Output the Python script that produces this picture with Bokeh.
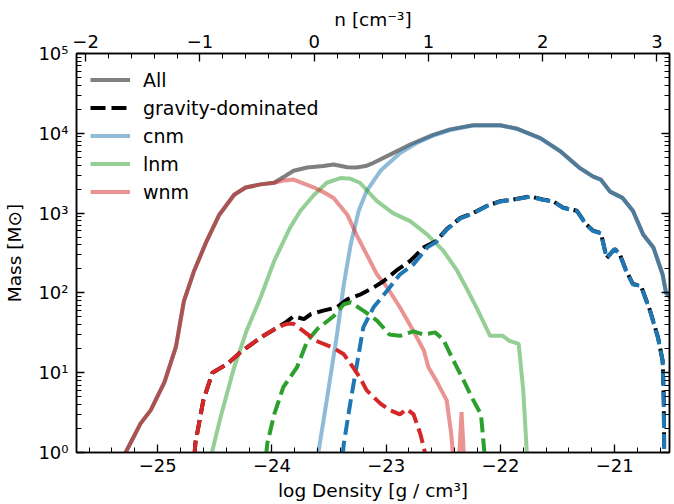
from bokeh.plotting import figure
from bokeh.models import (Range1d, LinearAxis, LogAxis, FixedTicker,
                          SingleIntervalTicker, Legend, LegendItem)
from bokeh.embed import file_html
from bokeh.resources import INLINE

FONT = "DejaVu Sans"

# ---------------- data (log density [g/cm^3], mass [Msun]) ----------------
x_all = [-25.34, -25.28, -25.15, -25.06, -24.94, -24.84, -24.77, -24.68, -24.57,
         -24.46, -24.33, -24.23, -24.10, -23.98, -23.89, -23.81, -23.69, -23.55,
         -23.46, -23.34, -23.26, -23.18, -23.11, -22.97, -22.79, -22.59, -22.44,
         -22.24, -22.00, -21.86, -21.65, -21.48, -21.31, -21.19, -21.12, -21.04,
         -20.93, -20.84, -20.75, -20.66, -20.58, -20.55, -20.51]
m_all = [0.5, 1.0, 2.3, 3.4, 7.6, 21, 79, 190, 450,
         955, 1700, 2090, 2290, 2400, 2880, 3390, 3720, 3890,
         4070, 3760, 3720, 3890, 4270, 5370, 7240, 9550, 11200,
         12600, 12600, 11500, 8710, 6030, 3720, 2880, 2630, 1860,
         1550, 1070, 540, 370, 170, 100, 87]

x_cnm = [-23.62, -23.59, -23.52, -23.43, -23.37, -23.31, -23.24, -23.17, -23.05,
         -22.88, -22.73, -22.59, -22.44, -22.24, -22.00, -21.86, -21.65, -21.48,
         -21.31, -21.19, -21.12, -21.04, -20.93, -20.84, -20.75, -20.66, -20.58,
         -20.55, -20.51]
m_cnm = [0.5, 1.07, 4.5, 30, 129, 407, 1070, 1900, 3390,
         5620, 7590, 9330, 11000, 12500, 12500, 11400, 8650, 6000,
         3700, 2860, 2610, 1850, 1540, 1060, 535, 365, 168,
         99, 86]

x_lnm = [-24.56, -24.52, -24.45, -24.33, -24.22, -24.10, -23.98, -23.84, -23.75,
         -23.63, -23.52, -23.40, -23.31, -23.23, -23.08, -22.94, -22.79, -22.64,
         -22.50, -22.38, -22.30, -22.21, -22.09, -21.98, -21.92, -21.84, -21.80,
         -21.77, -21.75]
m_lnm = [0.5, 1.07, 2.75, 11.7, 33.9, 87, 251, 661, 1070,
         1700, 2400, 2750, 2690, 2400, 1410, 1000, 794, 537,
         339, 191, 117, 66, 29, 29, 25, 23, 6.0,
         1.07, 0.5]

x_wnm = [-25.34, -25.28, -25.15, -25.06, -24.94, -24.84, -24.77, -24.68, -24.57,
         -24.46, -24.33, -24.23, -24.10, -23.98, -23.89, -23.81, -23.72, -23.63,
         -23.52, -23.46, -23.34, -23.26, -23.17, -23.08, -22.99, -22.88, -22.76,
         -22.67, -22.63, -22.56, -22.47, -22.43, -22.40, -22.37, -22.34, -22.31]
m_wnm = [0.5, 1.0, 2.3, 3.4, 7.6, 21, 79, 190, 450,
         955, 1700, 2090, 2290, 2400, 2570, 2630, 2340, 2090,
         1740, 1550, 955, 537, 302, 170, 117, 66, 33,
         19, 11.7, 7.9, 4.5, 1.7, 0.5, 0.5, 3.2, 0.5]

x_grav = [-24.69, -24.67, -24.60, -24.52, -24.39, -24.28, -24.10, -23.95, -23.87,
          -23.81, -23.72, -23.66, -23.55, -23.43, -23.34, -23.23, -23.11, -23.02,
          -22.91, -22.79, -22.67, -22.56, -22.47, -22.35, -22.24, -22.12, -22.00,
          -21.89, -21.74, -21.63, -21.54, -21.45, -21.33, -21.25, -21.19, -21.12,
          -21.07, -21.00, -20.96, -20.90, -20.84, -20.77, -20.69, -20.62, -20.58,
          -20.57, -20.565]
m_grav = [0.5, 1.3, 4.5, 10, 12.9, 17.8, 27.5, 37, 43.7,
          51, 47, 54, 60, 66, 83, 95, 117, 141,
          191, 251, 372, 447, 631, 871, 1000, 1230, 1410,
          1480, 1620, 1480, 1410, 1170, 1070, 724, 603, 562,
          275, 355, 316, 191, 129, 123, 60, 27.5, 14.1,
          4.5, 0.5]

x_wnm_grav = [-24.69, -24.67, -24.60, -24.52, -24.39, -24.28, -24.10, -23.95, -23.87,
              -23.81, -23.75, -23.61, -23.46, -23.37, -23.29, -23.23, -23.17, -23.05,
              -22.97, -22.88, -22.82, -22.76, -22.70, -22.66, -22.64]
m_wnm_grav = [0.5, 1.3, 4.5, 10, 12.9, 17.8, 27.5, 37, 41,
              41, 35.5, 25, 20.4, 17, 11.7, 8.7, 6.0, 4.1,
              3.4, 3.0, 3.5, 3.0, 1.7, 1.0, 0.5]

x_lnm_grav = [-24.07, -24.04, -23.98, -23.90, -23.78, -23.69, -23.60, -23.46, -23.37,
              -23.31, -23.20, -23.08, -22.97, -22.88, -22.76, -22.67, -22.57, -22.50,
              -22.41, -22.32, -22.25, -22.17, -22.14, -22.13]
m_lnm_grav = [0.5, 1.3, 3.0, 6.6, 11.7, 25, 35.5, 51, 72,
              76, 60, 45, 30, 29, 33, 30, 32, 26,
              14.1, 7.9, 4.9, 3.0, 1.0, 0.5]

x_cnm_grav = [-23.40, -23.37, -23.31, -23.26, -23.20, -23.11, -22.99, -22.88, -22.76,
              -22.64, -22.56, -22.47, -22.35, -22.24, -22.12, -22.00, -21.89, -21.74,
              -21.63, -21.54, -21.45, -21.33, -21.25, -21.19, -21.12, -21.07, -21.00,
              -20.96, -20.90, -20.84, -20.77, -20.69, -20.62, -20.58, -20.57, -20.565]
m_cnm_grav = [0.5, 1.3, 4.5, 11.7, 37, 66, 107, 170, 229,
              372, 437, 620, 860, 990, 1220, 1400, 1470, 1610,
              1470, 1400, 1160, 1060, 718, 598, 557, 272, 352,
              313, 189, 128, 122, 59, 27, 14, 4.4, 0.5]

# axes / ticks
x_lim = (-25.71, -20.52)
y_lim = (1, 1e5)
n_offset = 23.63   # n = log rho - log(mu m_H)
bottom_ticks = [-25, -24, -23, -22, -21]
bottom_labels = ["\u221225", "\u221224", "\u221223", "\u221222", "\u221221"]
top_ticks = [-2, -1, 0, 1, 2, 3]
top_labels = ["\u22122", "\u22121", "0", "1", "2", "3"]
y_ticks = [1, 10, 100, 1000, 10000, 100000]
y_labels = ["10\u2070", "10\u00b9", "10\u00b2", "10\u00b3", "10\u2074", "10\u2075"]
y_minor = [m * d for d in y_ticks[:-1] for m in range(2, 10)]

BLUE, GREEN, RED = "#1f77b4", "#2ca02c", "#d62728"
LW = 4
DASH = "15 6"

p = figure(width=674, height=504, x_range=Range1d(*x_lim), y_range=Range1d(*y_lim),
           y_axis_type="log", output_backend="svg", toolbar_location=None,
           min_border_left=76, min_border_right=5, min_border_top=53,
           min_border_bottom=52)
p.extra_x_ranges = {"n": Range1d(x_lim[0] + n_offset, x_lim[1] + n_offset)}
p.xgrid.visible = False
p.ygrid.visible = False
p.outline_line_color = "black"
p.outline_line_width = 1.5
p.background_fill_color = "white"
p.border_fill_color = "white"

r_all = p.line(x_all, m_all, line_color="black", line_alpha=0.5, line_width=LW)
r_cnm = p.line(x_cnm, m_cnm, line_color=BLUE, line_alpha=0.5, line_width=LW)
r_lnm = p.line(x_lnm, m_lnm, line_color=GREEN, line_alpha=0.5, line_width=LW)
r_wnm = p.line(x_wnm, m_wnm, line_color=RED, line_alpha=0.5, line_width=LW)
r_grav = p.line(x_grav, m_grav, line_color="black", line_width=LW, line_dash=DASH)
p.line(x_cnm_grav, m_cnm_grav, line_color=BLUE, line_width=LW, line_dash=DASH)
p.line(x_lnm_grav, m_lnm_grav, line_color=GREEN, line_width=LW, line_dash=DASH)
p.line(x_wnm_grav, m_wnm_grav, line_color=RED, line_width=LW, line_dash=DASH)

# axes
xb = p.xaxis[0]
xb.ticker = SingleIntervalTicker(interval=1, num_minor_ticks=5)
xb.major_label_overrides = dict(zip(bottom_ticks, bottom_labels))
xb.axis_label = "log Density [g / cm\u00b3]"

yl = p.yaxis[0]
yl.ticker = FixedTicker(ticks=y_ticks, minor_ticks=y_minor)
yl.major_label_overrides = dict(zip(y_ticks, y_labels))
yl.axis_label = "Mass [M\u2299]"

xt = LinearAxis(x_range_name="n", axis_label="n [cm\u207b\u00b3]")
xt.ticker = SingleIntervalTicker(interval=1, num_minor_ticks=5)
xt.major_label_overrides = dict(zip(top_ticks, top_labels))
p.add_layout(xt, "above")

yr = LogAxis()
yr.ticker = FixedTicker(ticks=y_ticks, minor_ticks=y_minor)
yr.major_label_text_alpha = 0
yr.major_label_text_font_size = "1px"
yr.major_label_standoff = 0
p.add_layout(yr, "right")

for ax in (xb, yl, xt, yr):
    ax.major_tick_in = 8
    ax.major_tick_out = 0
    ax.minor_tick_in = 5
    ax.minor_tick_out = 0
    ax.axis_line_width = 1.5
    ax.major_tick_line_width = 1.3
    ax.minor_tick_line_width = 1.0
    ax.axis_line_color = "black"
    ax.major_tick_line_color = "black"
    ax.minor_tick_line_color = "black"
    ax.major_label_text_font = FONT
    ax.axis_label_text_font = FONT
    ax.axis_label_text_font_style = "normal"
    ax.axis_label_text_font_size = "18.5px"
    ax.axis_label_text_color = "black"
for ax in (xb, yl, xt):
    ax.major_label_text_color = "black"
    ax.major_label_text_font_size = "18px"
xb.major_label_standoff = 6
xb.axis_label_standoff = 5
yl.major_label_standoff = 8
yl.axis_label_standoff = 10
xt.major_label_standoff = 6
xt.axis_label_standoff = 2

legend = Legend(items=[
    LegendItem(label="All", renderers=[r_all]),
    LegendItem(label="gravity-dominated", renderers=[r_grav]),
    LegendItem(label="cnm", renderers=[r_cnm]),
    LegendItem(label="lnm", renderers=[r_lnm]),
    LegendItem(label="wnm", renderers=[r_wnm]),
], location="top_left")
legend.border_line_alpha = 0
legend.background_fill_alpha = 0
legend.margin = 6
legend.padding = 8
legend.spacing = 3
legend.glyph_width = 40
legend.glyph_height = 25
legend.label_height = 25
legend.label_standoff = 13
legend.label_text_font = FONT
legend.label_text_font_size = "19px"
legend.label_text_color = "black"
p.add_layout(legend)

open("out.html", "w").write(file_html(p, INLINE))
